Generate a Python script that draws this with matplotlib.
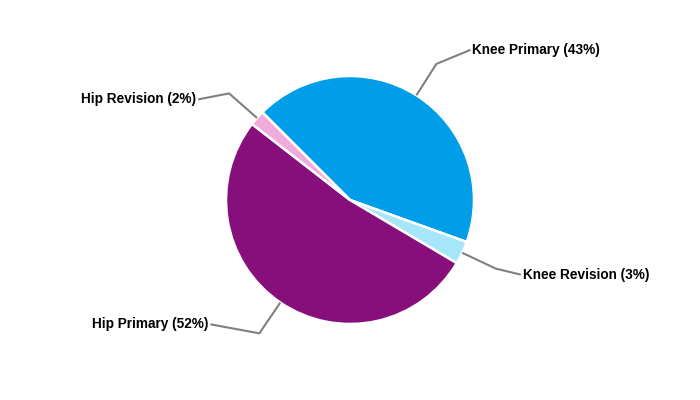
import numpy as np
import matplotlib
matplotlib.use("Agg")
import matplotlib.pyplot as plt

# slice data, in drawing order (clockwise from the upper left)
labels = ["Knee Primary", "Knee Revision", "Hip Primary", "Hip Revision"]
shares = [43, 3, 52, 2]
colors = ["#009DE9", "#A6E6FB", "#870F7B", "#F0AADC"]

# where each label text ends up, relative to the elbow of its leader (pixels)
label_offsets = [(34, 14), (25, -6), (-49, 9), (-31, -6)]

radius = 124
start = 135

fig = plt.figure(figsize=(7, 4), dpi=100)
ax = fig.add_axes([0, 0, 1, 1])

wedges, _ = ax.pie(shares, colors=colors, radius=radius, startangle=start,
                   counterclock=False, center=(0, 0), frame=True,
                   wedgeprops=dict(edgecolor="white", linewidth=1.8))
ax.set_xlim(-350, 350)
ax.set_ylim(-200, 200)
ax.set_aspect("equal")
ax.axis("off")

for w, name, pct, (dx, dy) in zip(wedges, labels, shares, label_offsets):
    mid = np.deg2rad((w.theta1 + w.theta2) / 2)
    x0, y0 = radius * np.cos(mid), radius * np.sin(mid)
    x1, y1 = 1.3 * radius * np.cos(mid), 1.3 * radius * np.sin(mid)
    x2, y2 = x1 + dx, y1 + dy
    ax.plot([x0, x1, x2], [y0, y1, y2], color="#808080", lw=1.5,
            solid_capstyle="butt", zorder=1)
    ha = "left" if dx > 0 else "right"
    tx = x2 + 2 if dx > 0 else x2 - 2
    ax.text(tx, y2, f"{name} ({pct}%)", ha=ha, va="center",
            fontsize=9.8, fontweight="bold", family="Liberation Sans",
            color="#000000")

fig.savefig("out.png", dpi=100)
